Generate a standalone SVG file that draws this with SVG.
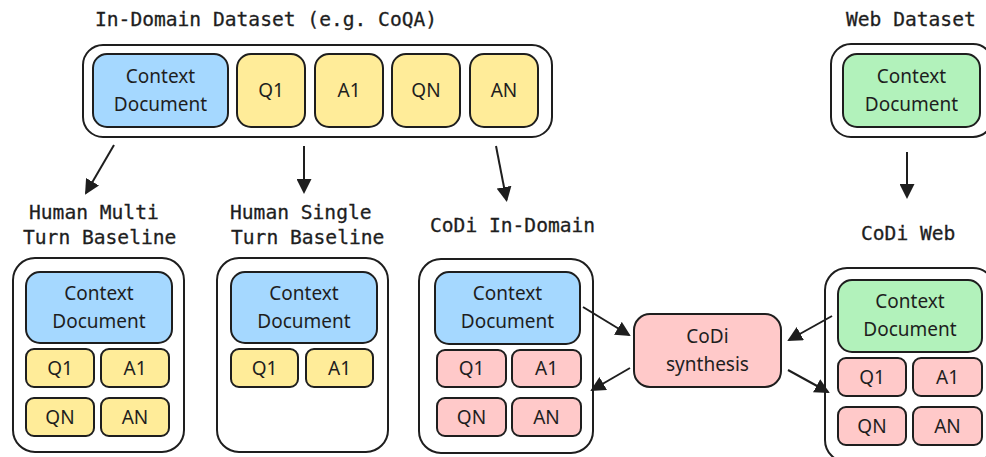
<svg xmlns="http://www.w3.org/2000/svg" width="986" height="457" viewBox="0 0 986 457">
<defs>
<marker id="ah" viewBox="0 0 15 15" refX="13" refY="7.5" markerWidth="15" markerHeight="15" markerUnits="userSpaceOnUse" orient="auto">
<path d="M0,0 L15,7.5 L0,15 z" fill="#1e1e1e"/>
</marker>
<style>
.outer{fill:#ffffff;stroke:#1e1e1e;stroke-width:2}
.blue{fill:#a5d8ff;stroke:#1e1e1e;stroke-width:2}
.yel{fill:#ffec99;stroke:#1e1e1e;stroke-width:2}
.pink{fill:#ffc9c9;stroke:#1e1e1e;stroke-width:2}
.green{fill:#b2f2bb;stroke:#1e1e1e;stroke-width:2}
.t{font-family:"Noto Sans","Open Sans",sans-serif;font-size:19px;fill:#1e1e1e;text-anchor:middle}
.m{font-family:"DejaVu Sans Mono","Liberation Mono",monospace;font-size:19.6px;fill:#1e1e1e;stroke:#1e1e1e;stroke-width:0.3}
.c{stroke:#1e1e1e;stroke-width:2;fill:none;marker-end:url(#ah)}
</style>
</defs>
<rect width="986" height="457" fill="#ffffff"/>

<g id="labels">
<text class="m" x="95" y="26">In-Domain Dataset (e.g. CoQA)</text>
<text class="m" x="846" y="26">Web Dataset</text>
<text class="m" x="29" y="219">Human Multi</text>
<text class="m" x="23" y="244">Turn Baseline</text>
<text class="m" x="230" y="219">Human Single</text>
<text class="m" x="231" y="244">Turn Baseline</text>
<text class="m" x="430" y="232">CoDi In-Domain</text>
<text class="m" x="861" y="240">CoDi Web</text>
</g>

<g id="in-domain-dataset">
<rect class="outer" x="83" y="45" width="469" height="92" rx="20"/>
<rect class="blue" x="93" y="54" width="135" height="73" rx="14"/>
<text class="t" x="160.5" y="83">Context</text>
<text class="t" x="160.5" y="111">Document</text>
<rect class="yel" x="237" y="54" width="68" height="73" rx="14"/>
<text class="t" x="271" y="97">Q1</text>
<rect class="yel" x="315" y="54" width="68" height="73" rx="14"/>
<text class="t" x="349" y="97">A1</text>
<rect class="yel" x="392" y="54" width="68" height="73" rx="14"/>
<text class="t" x="426" y="97">QN</text>
<rect class="yel" x="470" y="54" width="68" height="73" rx="14"/>
<text class="t" x="504" y="97">AN</text>
</g>

<g id="web-dataset">
<rect class="outer" x="831" y="44" width="162" height="93" rx="20"/>
<rect class="green" x="843" y="54" width="137" height="73" rx="14"/>
<text class="t" x="911.5" y="83">Context</text>
<text class="t" x="911.5" y="111">Document</text>
</g>

<g id="human-multi">
<rect class="outer" x="13" y="258" width="171" height="194" rx="22"/>
<rect class="blue" x="26" y="272" width="146" height="71" rx="14"/>
<text class="t" x="99" y="300">Context</text>
<text class="t" x="99" y="328">Document</text>
<rect class="yel" x="26" y="349" width="68" height="38" rx="8"/>
<text class="t" x="60" y="375">Q1</text>
<rect class="yel" x="101" y="349" width="68" height="38" rx="8"/>
<text class="t" x="135" y="375">A1</text>
<rect class="yel" x="26" y="398" width="68" height="38" rx="8"/>
<text class="t" x="60" y="424">QN</text>
<rect class="yel" x="101" y="398" width="68" height="38" rx="8"/>
<text class="t" x="135" y="424">AN</text>
</g>

<g id="human-single">
<rect class="outer" x="217" y="258" width="171" height="194" rx="22"/>
<rect class="blue" x="231" y="272" width="146" height="71" rx="14"/>
<text class="t" x="304" y="300">Context</text>
<text class="t" x="304" y="328">Document</text>
<rect class="yel" x="231" y="349" width="67" height="38" rx="8"/>
<text class="t" x="264.5" y="375">Q1</text>
<rect class="yel" x="306" y="349" width="67" height="38" rx="8"/>
<text class="t" x="339.5" y="375">A1</text>
</g>

<g id="codi-in-domain">
<rect class="outer" x="419" y="259" width="174" height="194" rx="22"/>
<rect class="blue" x="435" y="272" width="145" height="72" rx="14"/>
<text class="t" x="507.5" y="300">Context</text>
<text class="t" x="507.5" y="328">Document</text>
<rect class="pink" x="437" y="350" width="69" height="37" rx="8"/>
<text class="t" x="471.5" y="375">Q1</text>
<rect class="pink" x="512" y="350" width="69" height="37" rx="8"/>
<text class="t" x="546.5" y="375">A1</text>
<rect class="pink" x="437" y="398" width="69" height="38" rx="8"/>
<text class="t" x="471.5" y="424">QN</text>
<rect class="pink" x="512" y="398" width="69" height="38" rx="8"/>
<text class="t" x="546.5" y="424">AN</text>
</g>

<g id="codi-synthesis">
<rect class="pink" x="634" y="314" width="147" height="73" rx="16"/>
<text class="t" x="707.5" y="343">CoDi</text>
<text class="t" x="707.5" y="371">synthesis</text>
</g>

<g id="codi-web">
<rect class="outer" x="825" y="268" width="170" height="194" rx="22"/>
<rect class="green" x="838" y="280" width="144" height="72" rx="14"/>
<text class="t" x="910" y="308">Context</text>
<text class="t" x="910" y="336">Document</text>
<rect class="pink" x="838" y="358" width="68" height="38" rx="8"/>
<text class="t" x="872" y="384">Q1</text>
<rect class="pink" x="913" y="358" width="69" height="38" rx="8"/>
<text class="t" x="947.5" y="384">A1</text>
<rect class="pink" x="838" y="407" width="68" height="38" rx="8"/>
<text class="t" x="872" y="433">QN</text>
<rect class="pink" x="913" y="407" width="69" height="38" rx="8"/>
<text class="t" x="947.5" y="433">AN</text>
</g>

<g id="connectors">
<line class="c" x1="114" y1="145" x2="86" y2="193"/>
<line class="c" x1="304" y1="146" x2="304" y2="192"/>
<line class="c" x1="496" y1="146" x2="506.5" y2="200"/>
<line class="c" x1="907" y1="152" x2="907" y2="197"/>
<line class="c" x1="583" y1="307" x2="629" y2="335"/>
<line class="c" x1="630" y1="368" x2="592" y2="390"/>
<line class="c" x1="832" y1="316" x2="789" y2="340"/>
<line class="c" x1="788" y1="370" x2="828" y2="392"/>
</g>
</svg>
